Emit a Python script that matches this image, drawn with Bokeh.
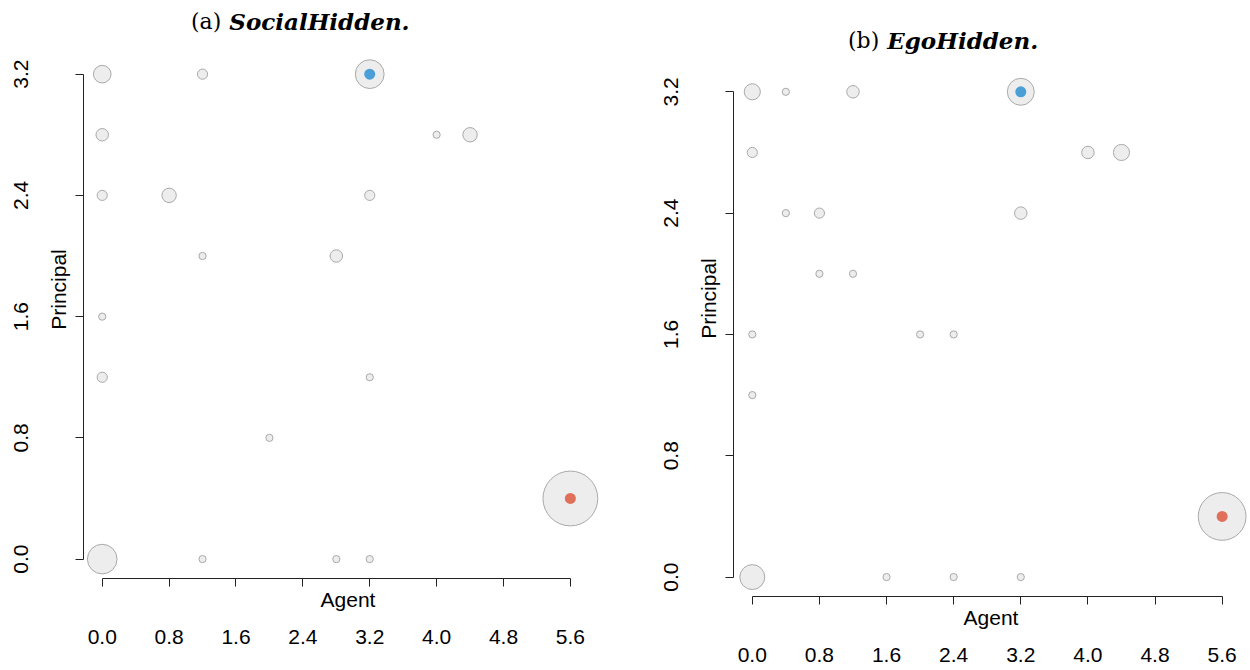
import numpy as np
from bokeh.plotting import figure
from bokeh.models import Range1d, LinearAxis, FixedTicker, Label, ColumnDataSource
from bokeh.layouts import row
from bokeh.embed import file_html
from bokeh.resources import INLINE

# ---------------- data ----------------
x_ticks = [0.0, 0.8, 1.6, 2.4, 3.2, 4.0, 4.8, 5.6]
x_tick_labels = ["0.0", "0.8", "1.6", "2.4", "3.2", "4.0", "4.8", "5.6"]
y_ticks = [0.0, 0.8, 1.6, 2.4, 3.2]
y_tick_labels = ["0.0", "0.8", "1.6", "2.4", "3.2"]

# (a) SocialHidden
a_agent = [0.0, 1.2, 3.2, 0.0, 4.0, 4.4, 0.0, 0.8, 3.2, 1.2, 2.8, 0.0, 0.0, 3.2, 2.0, 5.6, 0.0, 1.2, 2.8, 3.2]
a_principal = [3.2, 3.2, 3.2, 2.8, 2.8, 2.8, 2.4, 2.4, 2.4, 2.0, 2.0, 1.6, 1.2, 1.2, 0.8, 0.4, 0.0, 0.0, 0.0, 0.0]
a_count = [6, 2, 16, 3, 1, 4, 2, 4, 2, 1, 3, 1, 2, 1, 1, 58, 17, 1, 1, 1]

# (b) EgoHidden
b_agent = [0.0, 0.4, 1.2, 3.2, 0.0, 4.0, 4.4, 0.4, 0.8, 3.2, 0.8, 1.2, 0.0, 2.0, 2.4, 0.0, 5.6, 0.0, 1.6, 2.4, 3.2]
b_principal = [3.2, 3.2, 3.2, 3.2, 2.8, 2.8, 2.8, 2.4, 2.4, 2.4, 2.0, 2.0, 1.6, 1.6, 1.6, 1.2, 0.4, 0.0, 0.0, 0.0, 0.0]
b_count = [5, 1, 3, 14, 2, 3, 5, 1, 2, 3, 1, 1, 1, 1, 1, 1, 44, 12, 1, 1, 1]

# highlighted equilibria (same in both panels)
hl_agent = [3.2, 5.6]
hl_principal = [3.2, 0.4]
hl_color = ["#4A9FD6", "#E0705A"]

FONT = "Liberation Sans"


def make_panel(agent, principal, count, left, right, bottom, x_end, y_end):
    p = figure(width=625, height=670,
               x_range=Range1d(-0.224, x_end), y_range=Range1d(-0.128, y_end),
               output_backend="svg", toolbar_location=None,
               x_axis_location=None, y_axis_location=None,
               min_border_left=left, min_border_right=right,
               min_border_top=0, min_border_bottom=bottom)
    if "frame_align" in p.properties():
        p.frame_align = False
    p.outline_line_color = None
    p.background_fill_color = "white"
    p.border_fill_color = "white"
    for g in p.grid:
        g.visible = False

    cnt = np.array(count, dtype=float)
    size = 2 * 3.6 * np.sqrt(cnt)
    order = np.argsort(-size, kind="stable")
    src = ColumnDataSource(dict(x=np.array(agent)[order], y=np.array(principal)[order],
                                s=size[order]))
    p.scatter("x", "y", size="s", source=src, fill_color="#EDEDED",
              line_color="#A9A9A9", line_width=1)
    p.scatter(hl_agent, hl_principal, size=11, fill_color=hl_color, line_color=None)

    def axis(label, ticks, labels, bounds, lab_std, axl_std, orientation):
        return LinearAxis(ticker=FixedTicker(ticks=ticks), bounds=bounds,
                          major_label_overrides={t: l for t, l in zip(ticks, labels)},
                          axis_label=label, axis_label_standoff=axl_std,
                          axis_label_text_font=FONT, axis_label_text_font_size="21px",
                          axis_label_text_font_style="normal", axis_label_text_color="black",
                          major_label_standoff=lab_std, major_label_text_font=FONT,
                          major_label_text_font_size="21px", major_label_text_color="black",
                          major_label_orientation=orientation,
                          major_tick_in=0, major_tick_out=8,
                          minor_tick_line_color=None,
                          axis_line_color="#222222", major_tick_line_color="#222222")

    p.add_layout(axis("Agent", x_ticks, x_tick_labels, (0, 5.6), 43, -59, "horizontal"), "below")
    p.add_layout(axis("Principal", y_ticks, y_tick_labels, (0, 3.2), 47, -58, "vertical"), "left")
    return p


def add_title(p, tag, name, x_tag, x_name, y_base):
    p.add_layout(Label(x=x_tag, y=y_base, text=tag, text_align="right",
                       text_baseline="alphabetic", text_font="DejaVu Serif",
                       text_font_size="22px", text_color="black"))
    p.add_layout(Label(x=x_name, y=y_base, text=name, text_align="left",
                       text_baseline="alphabetic", text_font="DejaVu Serif",
                       text_font_style="bold italic", text_font_size="23px",
                       text_color="black"))


pa = make_panel(a_agent, a_principal, a_count, left=83, right=13, bottom=92,
                x_end=6.104, y_end=3.686)
add_title(pa, "(a)", "SocialHidden.", 1.424, 1.520, 3.550)

pb = make_panel(b_agent, b_principal, b_count, left=108, right=2, bottom=74,
                x_end=5.914, y_end=3.802)
add_title(pb, "(b)", "EgoHidden.", 1.513, 1.608, 3.540)

layout = row(pa, pb, spacing=0)
open("out.html", "w").write(file_html(layout, INLINE))
